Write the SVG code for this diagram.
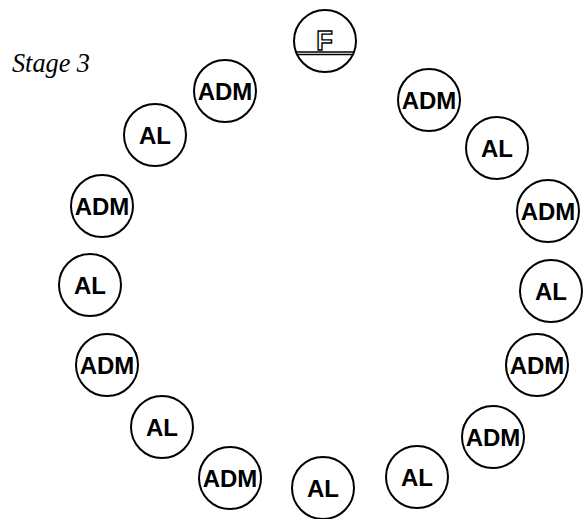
<svg xmlns="http://www.w3.org/2000/svg" width="584" height="519" viewBox="0 0 584 519">
  <style>
    .n circle { fill: #ffffff; stroke: #000000; stroke-width: 2; }
    .n text { font-family: "Liberation Sans", Arial, sans-serif; font-weight: bold; font-size: 24px; fill: #000000; text-anchor: middle; }
    .n text.al { font-size: 24px; }
    .title { font-family: "Liberation Serif", "Times New Roman", serif; font-style: italic; font-size: 28px; fill: #000000; }
    .fline { stroke: #000000; stroke-width: 1.5; }
  </style>
  <rect width="584" height="519" fill="#ffffff"/>
  <text class="title" x="12" y="72" textLength="78" lengthAdjust="spacingAndGlyphs">Stage 3</text>
  <g id="connectors"></g>
  <g id="node-F" class="n">
    <circle cx="325" cy="41" r="31"/>
    <text x="324.5" y="50" style="font-size:27px; fill:#ffffff; stroke:#000000; stroke-width:1.4;">F</text>
    <line class="fline" x1="295.5" y1="52" x2="354.5" y2="52"/>
    <line class="fline" x1="296" y1="54.5" x2="354" y2="54.5"/>
  </g>
  <g id="node-ADM-1" class="n"><circle cx="429" cy="100" r="31"/><text x="429" y="108.5">ADM</text></g>
  <g id="node-AL-1" class="n"><circle cx="497" cy="148" r="31"/><text class="al" x="497" y="156.5">AL</text></g>
  <g id="node-ADM-2" class="n"><circle cx="548" cy="211" r="31"/><text x="548" y="219.5">ADM</text></g>
  <g id="node-AL-2" class="n"><circle cx="551" cy="291" r="31"/><text class="al" x="551" y="299.5">AL</text></g>
  <g id="node-ADM-3" class="n"><circle cx="537" cy="365" r="31"/><text x="537" y="373.5">ADM</text></g>
  <g id="node-ADM-4" class="n"><circle cx="493" cy="437" r="31"/><text x="493" y="445.5">ADM</text></g>
  <g id="node-AL-3" class="n"><circle cx="417" cy="477" r="31"/><text class="al" x="417" y="485.5">AL</text></g>
  <g id="node-AL-4" class="n"><circle cx="323" cy="488" r="31"/><text class="al" x="323" y="496.5">AL</text></g>
  <g id="node-ADM-5" class="n"><circle cx="230" cy="478" r="31"/><text x="230" y="486.5">ADM</text></g>
  <g id="node-AL-5" class="n"><circle cx="162" cy="427" r="31"/><text class="al" x="162" y="435.5">AL</text></g>
  <g id="node-ADM-6" class="n"><circle cx="107" cy="365" r="31"/><text x="107" y="373.5">ADM</text></g>
  <g id="node-AL-6" class="n"><circle cx="90" cy="285" r="31"/><text class="al" x="90" y="293.5">AL</text></g>
  <g id="node-ADM-7" class="n"><circle cx="102" cy="206" r="31"/><text x="102" y="214.5">ADM</text></g>
  <g id="node-AL-7" class="n"><circle cx="155" cy="135" r="31"/><text class="al" x="155" y="143.5">AL</text></g>
  <g id="node-ADM-8" class="n"><circle cx="225" cy="91" r="31"/><text x="225" y="99.5">ADM</text></g>
</svg>
